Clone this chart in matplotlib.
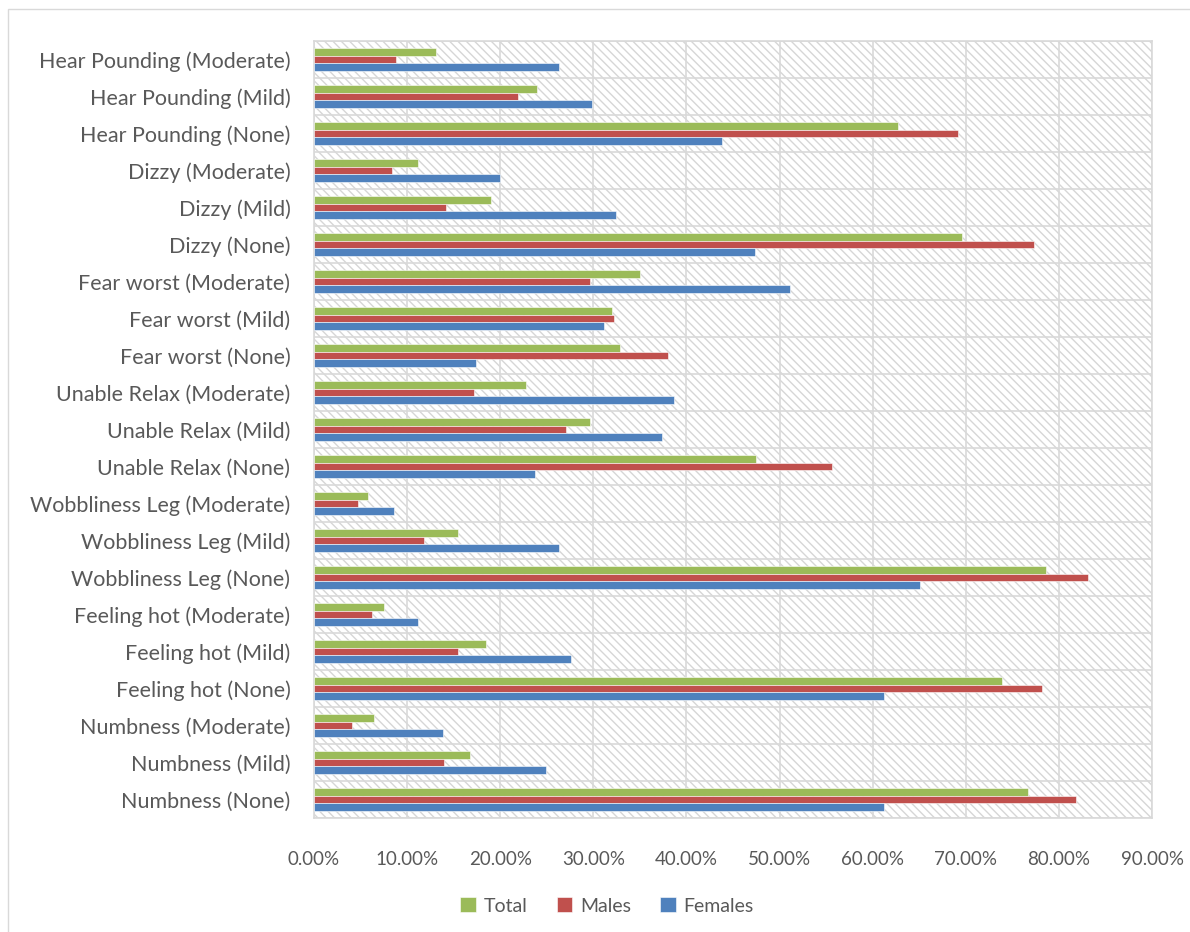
import numpy as np
import matplotlib.pyplot as plt
from matplotlib.patches import Rectangle

# symptom levels, bottom to top as drawn on the y axis
categories = [
    "Numbness (None)", "Numbness (Mild)", "Numbness (Moderate)",
    "Feeling hot (None)", "Feeling hot (Mild)", "Feeling hot (Moderate)",
    "Wobbliness Leg (None)", "Wobbliness Leg (Mild)", "Wobbliness Leg (Moderate)",
    "Unable Relax (None)", "Unable Relax (Mild)", "Unable Relax (Moderate)",
    "Fear worst (None)", "Fear worst (Mild)", "Fear worst (Moderate)",
    "Dizzy (None)", "Dizzy (Mild)", "Dizzy (Moderate)",
    "Hear Pounding (None)", "Hear Pounding (Mild)", "Hear Pounding (Moderate)",
]

total = [76.7, 16.8, 6.4, 73.9, 18.5, 7.5, 78.6, 15.5, 5.8,
         47.5, 29.6, 22.8, 32.9, 32.0, 35.0, 69.6, 19.0, 11.2, 62.7, 23.9, 13.1]
males = [81.8, 14.0, 4.1, 78.2, 15.5, 6.2, 83.1, 11.8, 4.7,
         55.6, 27.1, 17.2, 38.0, 32.2, 29.6, 77.3, 14.2, 8.4, 69.2, 21.9, 8.8]
females = [61.2, 24.9, 13.8, 61.2, 27.6, 11.2, 65.1, 26.3, 8.6,
           23.7, 37.4, 38.7, 17.4, 31.1, 51.1, 47.4, 32.4, 20.0, 43.8, 29.9, 26.3]

series = [("Total", total, "#9BBB59"),
          ("Males", males, "#C0504D"),
          ("Females", females, "#4F81BD")]

plt.rcParams['font.family'] = ['Lato', 'DejaVu Sans']

fig = plt.figure(figsize=(11.9, 9.32), dpi=100)
fig.patches.append(Rectangle((0.007, -0.01), 1.0, 1.0, transform=fig.transFigure,
                             fill=False, edgecolor="#D9D9D9", linewidth=1.0))
ax = fig.add_axes([0.2639, 0.1223, 0.7042, 0.8337])

y = np.arange(len(categories))
h = 0.2
offsets = [h, 0, -h]
for (name, vals, col), off in zip(series, offsets):
    ax.barh(y + off, vals, height=h, color=col, edgecolor="white",
            linewidth=0.4, label=name, zorder=3)

ax.set_xlim(0, 90)
ax.set_ylim(-0.5, len(categories) - 0.5)

# hatched plot background
ax.add_patch(Rectangle((0, 0), 1, 1, transform=ax.transAxes, facecolor="white",
                       hatch="\\\\\\\\", edgecolor="#D6D6D6", linewidth=0, zorder=0))

ax.set_xticks(np.arange(0, 91, 10))
ax.set_xticklabels([f"{v:.2f}%" for v in np.arange(0, 91, 10)])
ax.set_yticks(y)
ax.set_yticklabels(categories)
ax.set_yticks(np.arange(-0.5, len(categories), 1), minor=True)

ax.grid(axis="x", which="major", color="#D9D9D9", linewidth=1.2, zorder=1)
ax.grid(axis="y", which="minor", color="#D9D9D9", linewidth=1.2, zorder=1)
ax.grid(axis="y", which="major", visible=False)

for s in ax.spines.values():
    s.set_color("#D9D9D9")
    s.set_linewidth(1.2)

ax.tick_params(axis="both", which="both", length=0, colors="#595959")
ax.tick_params(axis="y", pad=17, labelsize=15.5)
ax.tick_params(axis="x", pad=24, labelsize=13.5)

fig.legend(loc="lower center", bbox_to_anchor=(0.51, 0.0), ncol=3, frameon=False,
           fontsize=14, labelcolor="#595959", handlelength=0.8, handleheight=0.8,
           handletextpad=0.4, columnspacing=1.5)

fig.savefig("out.png", dpi=100, facecolor="white")
